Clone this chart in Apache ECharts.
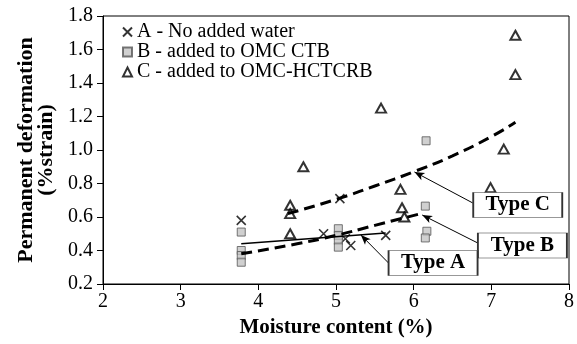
<!DOCTYPE html>
<html><head><meta charset="utf-8">
<script src="https://cdn.jsdelivr.net/npm/echarts@6/dist/echarts.min.js"></script>
<style>html,body{margin:0;padding:0;background:#fff}#c{width:577px;height:344px}</style>
</head><body><div id="c"></div>
<script>
// Series A - No added water
const seriesA = [[3.78,0.58],[4.84,0.50],[5.05,0.71],[5.12,0.47],[5.19,0.43],[5.64,0.49]];
// Series B - added to OMC CTB
const seriesB = [[3.78,0.51],[3.78,0.40],[3.78,0.37],[3.78,0.33],[5.03,0.53],[5.03,0.49],[5.03,0.46],[5.03,0.42],[6.16,1.055],[6.15,0.665],[6.17,0.515],[6.15,0.475]];
// Series C - added to OMC-HCTCRB
const seriesC = [[4.41,0.67],[4.41,0.62],[4.41,0.50],[4.58,0.90],[5.58,1.25],[5.83,0.765],[5.85,0.655],[5.88,0.60],[6.99,0.775],[7.16,1.005],[7.31,1.45],[7.31,1.685]];
// Trend lines
const trendA = [[3.78,0.44],[5.64,0.505]];
const trendB = [[3.78,0.38],[4.5,0.44],[5.0,0.49],[5.5,0.55],[6.09,0.62]];
const trendC = [[4.38,0.62],[5.0,0.705],[5.5,0.785],[6.0,0.87],[6.5,0.965],[7.0,1.08],[7.31,1.165]];
// Annotations: [label, box centre, arrow start, arrow end]
const annotations = [
  ['Type C',[7.34,0.672],[6.76,0.684],[6.01,0.869]],
  ['Type B',[7.40,0.430],[6.85,0.439],[6.11,0.612]],
  ['Type A',[6.25,0.325],[5.69,0.319],[5.32,0.493]]
];
const xTicks = [2,3,4,5,6,7,8];
const yTicks = [0.2,0.4,0.6,0.8,1.0,1.2,1.4,1.6,1.8];
const names = ['A - No added water','B - added to OMC CTB','C - added to OMC-HCTCRB'];

const FONT = 'Liberation Serif';
const chart = echarts.init(document.getElementById('c'), null, {renderer:'canvas'});
const crossPath = 'path://M0,0L10,10M10,0L0,10';
chart.setOption({
  animation:false,
  backgroundColor:'#fff',
  textStyle:{fontFamily:FONT},
  grid:{left:103,right:4,top:16,bottom:60,show:true,borderColor:'#000',borderWidth:1,backgroundColor:'transparent'},
  legend:{
    orient:'vertical',left:117,top:17,itemGap:0,itemWidth:9,itemHeight:9,
    data:names,
    textStyle:{fontFamily:FONT,fontSize:20,color:'#000',lineHeight:20}
  },
  xAxis:{
    type:'value',min:xTicks[0],max:xTicks[xTicks.length-1],interval:1,
    name:'Moisture content (%)',nameLocation:'middle',nameGap:33,
    nameTextStyle:{fontFamily:FONT,fontSize:21,fontWeight:'bold',color:'#000'},
    axisLine:{lineStyle:{color:'#000',width:1}},
    axisTick:{show:true,length:6,lineStyle:{color:'#000'}},
    axisLabel:{fontFamily:FONT,fontSize:20,color:'#000',margin:8},
    splitLine:{show:false}
  },
  yAxis:{
    type:'value',min:yTicks[0],max:yTicks[yTicks.length-1],interval:0.2,
    name:'Permanent deformation\n(%strain)',nameLocation:'middle',nameGap:42,nameRotate:90,
    nameTextStyle:{fontFamily:FONT,fontSize:22,fontWeight:'bold',color:'#000',lineHeight:20},
    axisLine:{show:true,lineStyle:{color:'#000',width:1}},
    axisTick:{show:true,length:6,lineStyle:{color:'#000'}},
    axisLabel:{fontFamily:FONT,fontSize:20,color:'#000',margin:10,formatter:v=>v.toFixed(1)},
    splitLine:{show:false}
  },
  series:[
    {name:names[0],type:'scatter',data:seriesA,symbol:crossPath,symbolSize:9,
     itemStyle:{color:'rgba(0,0,0,0)',borderColor:'#000',borderWidth:1.6}},
    {name:names[1],type:'scatter',data:seriesB,symbol:'rect',symbolSize:8,
     itemStyle:{color:'#c4c4c4',borderColor:'#555',borderWidth:1}},
    {name:names[2],type:'scatter',data:seriesC,symbol:'triangle',symbolSize:[10,9],
     itemStyle:{color:'#fff',borderColor:'#000',borderWidth:2}},
    {name:'trendC',type:'line',data:trendC,smooth:true,symbol:'none',
     lineStyle:{color:'#000',width:3,type:[11,6]}},
    {name:'trendB',type:'line',data:trendB,smooth:true,symbol:'none',
     lineStyle:{color:'#000',width:3,type:[11,6]}},
    {name:'trendA',type:'line',data:trendA,symbol:'none',
     lineStyle:{color:'#000',width:1.5},
     markLine:{silent:true,symbol:['none','arrow'],symbolSize:[6,10],
       lineStyle:{color:'#000',width:1,type:'solid'},label:{show:false},
       data:annotations.map(a=>[{coord:a[2]},{coord:a[3]}])},
     markPoint:{silent:true,symbol:'rect',symbolSize:[89,25],
       itemStyle:{color:'#fff',borderColor:'#333',borderWidth:1},
       label:{show:true,position:'inside',fontFamily:FONT,fontSize:21,fontWeight:'bold',color:'#000'},
       data:annotations.map(a=>({coord:a[1],value:a[0],label:{formatter:a[0]}}))}
    }
  ]
});
</script></body></html>
